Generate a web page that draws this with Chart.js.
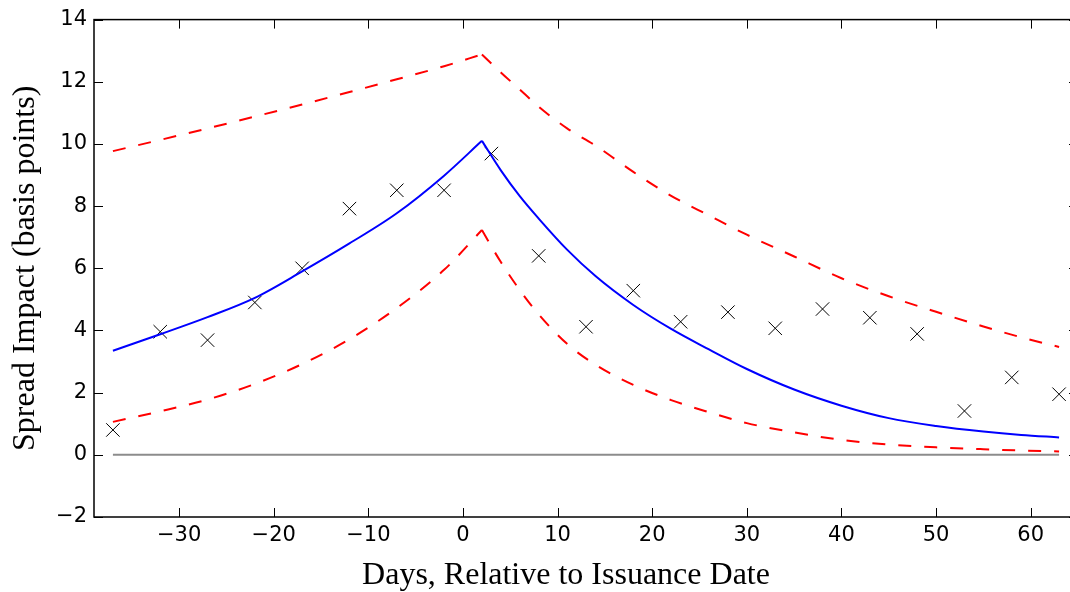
<!DOCTYPE html>
<html>
<head>
<meta charset="utf-8">
<script src="https://cdn.jsdelivr.net/npm/chart.js@4.4.1/dist/chart.umd.min.js"></script>
<style>
  html, body { margin: 0; padding: 0; overflow: hidden; background: #ffffff; }
  #wrap { width: 1090px; height: 592px; position: relative; }
</style>
</head>
<body>
<div id="wrap"><canvas id="c"></canvas></div>
<script>
// ---- data ----
const xTicks = [-30, -20, -10, 0, 10, 20, 30, 40, 50, 60];
const yTicks = [-2, 0, 2, 4, 6, 8, 10, 12, 14];

const obsDays   = [-37, -32, -27, -22, -17, -12, -7, -2, 3, 8, 13, 18, 23, 28, 33, 38, 43, 48, 53, 58, 63];
const obsSpread = [0.80, 3.96, 3.69, 4.90, 6.00, 7.92, 8.51, 8.51, 9.69, 6.40, 4.12, 5.28, 4.28, 4.59, 4.07, 4.69, 4.41, 3.89, 1.41, 2.49, 1.95];

const fitDaysPre  = [-37, -32, -27, -22, -17, -12, -7, -2, 2];
const fitDaysPost = [2, 4, 6, 8, 11, 14, 18, 22, 26, 30, 35, 40, 45, 50, 55, 59, 63];

const fitPre      = [3.35, 3.88, 4.43, 5.05, 5.90, 6.80, 7.77, 8.98, 10.10];
const fitPost     = [10.10, 9.15, 8.32, 7.60, 6.60, 5.75, 4.82, 4.05, 3.39, 2.76, 2.10, 1.58, 1.18, 0.93, 0.75, 0.64, 0.56];

const upperPre    = [9.77, 10.13, 10.50, 10.88, 11.27, 11.67, 12.08, 12.50, 12.88];
const upperPost   = [12.88, 12.30, 11.75, 11.20, 10.50, 9.95, 9.10, 8.33, 7.70, 7.08, 6.38, 5.68, 5.10, 4.60, 4.13, 3.78, 3.47];

const lowerPre    = [1.06, 1.40, 1.78, 2.28, 2.92, 3.72, 4.72, 5.95, 7.23];
const lowerPost   = [7.23, 6.20, 5.30, 4.52, 3.57, 2.90, 2.25, 1.76, 1.37, 1.02, 0.72, 0.48, 0.33, 0.24, 0.18, 0.14, 0.11];

const zeroDays  = [-37, 63];
const zeroVals  = [0, 0];

const xLimits = [-39, 65];
const yLimits = [-2, 14];

const xTitle = 'Days, Relative to Issuance Date';
const yTitle = 'Spread Impact (basis points)';

// ---- build ----
const pts = (xs, ys) => xs.map((x, i) => ({ x: x, y: ys[i] }));
const minus = v => String(v).replace('-', '\u2212');

const lineDs = (xs, ys, color, dashed) => ({
  type: 'line',
  data: pts(xs, ys),
  borderColor: color,
  borderWidth: 2,
  borderDash: dashed ? [13, 13] : [],
  pointRadius: 0,
  fill: false,
  cubicInterpolationMode: 'monotone',
  showLine: true
});

const boxTicks = {
  id: 'boxTicks',
  afterDraw(chart) {
    const { ctx, chartArea: a, scales: { x, y } } = chart;
    ctx.save();
    ctx.strokeStyle = '#000000';
    ctx.lineWidth = 1;
    const tl = 9;
    ctx.beginPath();
    xTicks.forEach(v => {
      const px = Math.round(x.getPixelForValue(v)) + 0.5;
      ctx.moveTo(px, a.bottom); ctx.lineTo(px, a.bottom - tl);
      ctx.moveTo(px, a.top); ctx.lineTo(px, a.top + tl);
    });
    yTicks.forEach(v => {
      const py = Math.round(y.getPixelForValue(v)) + 0.5;
      ctx.moveTo(a.left, py); ctx.lineTo(a.left + tl, py);
      ctx.moveTo(a.right, py); ctx.lineTo(a.right - tl, py);
    });
    ctx.stroke();
    ctx.lineWidth = 1.5;
    ctx.strokeRect(a.left, a.top, a.right - a.left, a.bottom - a.top);
    ctx.restore();
  }
};

new Chart(document.getElementById('c'), {
  type: 'scatter',
  data: {
    datasets: [
      {
        type: 'line',
        data: pts(zeroDays, zeroVals),
        borderColor: '#8c8c8c',
        borderWidth: 2,
        pointRadius: 0,
        fill: false
      },
      lineDs(fitDaysPre, upperPre, '#ff0000', true),
      lineDs(fitDaysPost, upperPost, '#ff0000', true),
      lineDs(fitDaysPre, lowerPre, '#ff0000', true),
      lineDs(fitDaysPost, lowerPost, '#ff0000', true),
      lineDs(fitDaysPre, fitPre, '#0000ff', false),
      lineDs(fitDaysPost, fitPost, '#0000ff', false),
      {
        type: 'scatter',
        data: pts(obsDays, obsSpread),
        pointStyle: 'crossRot',
        pointRadius: 9.5,
        pointBorderWidth: 1,
        borderColor: '#000000',
        backgroundColor: '#000000'
      }
    ]
  },
  options: {
    responsive: true,
    maintainAspectRatio: false,
    animation: false,
    events: [],
    layout: { padding: { top: 19, right: 12, left: 0, bottom: 0 } },
    plugins: {
      legend: { display: false },
      tooltip: { enabled: false },
      title: { display: false }
    },
    scales: {
      x: {
        type: 'linear',
        min: xLimits[0],
        max: xLimits[1],
        afterBuildTicks: s => { s.ticks = xTicks.map(v => ({ value: v })); },
        afterFit: s => { s.height = 75; },
        grid: { display: false, drawTicks: false },
        border: { display: false },
        ticks: {
          color: '#000000',
          font: { family: 'DejaVu Sans', size: 21 },
          padding: 6,
          maxRotation: 0,
          autoSkip: false,
          callback: v => minus(v)
        },
        title: {
          display: true,
          text: xTitle + '     ',
          color: '#000000',
          font: { family: 'Liberation Serif', size: 32, lineHeight: 1.0 },
          padding: { top: 0, bottom: 0 }
        }
      },
      y: {
        type: 'linear',
        min: yLimits[0],
        max: yLimits[1],
        afterBuildTicks: s => { s.ticks = yTicks.map(v => ({ value: v })); },
        afterFit: s => { s.width = 94; },
        grid: { display: false, drawTicks: false },
        border: { display: false },
        ticks: {
          color: '#000000',
          font: { family: 'DejaVu Sans', size: 21 },
          padding: 7,
          autoSkip: false,
          callback: v => minus(v)
        },
        title: {
          display: true,
          text: yTitle,
          color: '#000000',
          font: { family: 'Liberation Serif', size: 32, lineHeight: 1.0 },
          padding: { top: 10, bottom: 0 }
        }
      }
    }
  },
  plugins: [boxTicks]
});
</script>
</body>
</html>
